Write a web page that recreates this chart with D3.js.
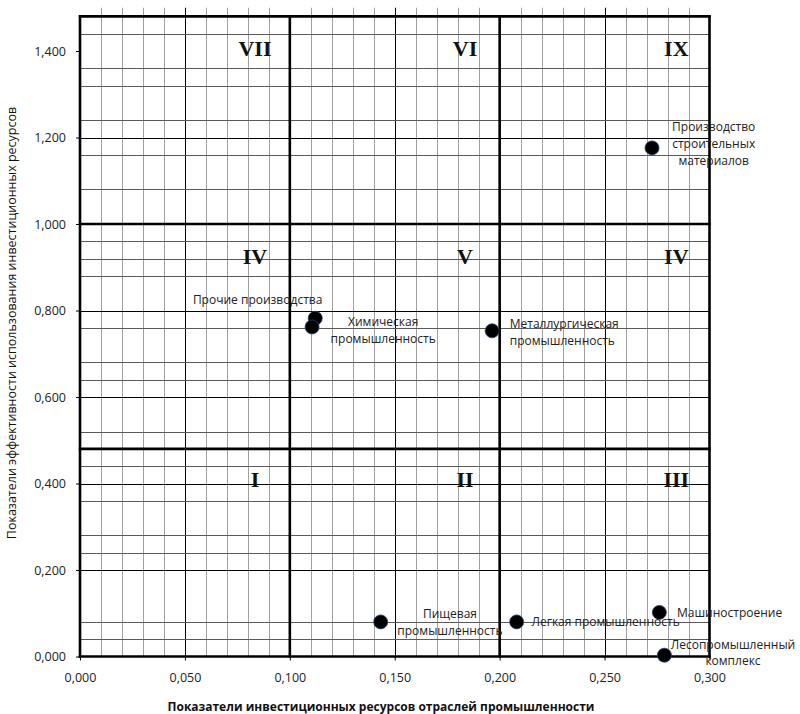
<!DOCTYPE html>
<html><head><meta charset="utf-8">
<script src="https://cdn.jsdelivr.net/npm/d3@7"></script>
<style>body{margin:0;background:#fff}svg{display:block}</style>
</head><body>
<svg id="c" width="800" height="714"></svg>
<script>
// ---- data ----
const pointNames = ["Производство строительных материалов","Прочие производства","Химическая промышленность","Металлургическая промышленность","Пищевая промышленность","Легкая промышленность","Машиностроение","Лесопромышленный комплекс"];
const pointX = [0.2726, 0.1121, 0.1106, 0.1964, 0.1433, 0.2081, 0.2761, 0.2785];
const pointY = [1.176, 0.782, 0.762, 0.753, 0.080, 0.080, 0.102, 0.003];
// label lines, anchor and position (in data units) for each point
const labelLines = [["Производство","строительных","материалов"],["Прочие производства"],["Химическая","промышленность"],["Металлургическая","промышленность"],["Пищевая","промышленность"],["Легкая промышленность"],["Машиностроение"],["Лесопромышленный","комплекс"]];
const labelX = [0.3020, 0.1155, 0.1445, 0.2048, 0.1763, 0.2152, 0.2845, 0.3112];
const labelY = [1.215, 0.814, 0.765, 0.760, 0.090, 0.070, 0.092, 0.017];
const labelLineGap = [17, 17, 17, 17, 17, 17, 17, 16];
const labelAnchor = ["middle","end","middle","start","middle","start","start","middle"];

const xTicks = [0, 0.05, 0.10, 0.15, 0.20, 0.25, 0.30];
const yTicks = [0, 0.2, 0.4, 0.6, 0.8, 1.0, 1.2, 1.4];
const xMinor = d3.range(1, 30).map(i => i / 100).filter(v => Math.round(v * 100) % 5 !== 0);
const xMajorThin = [0.05, 0.15, 0.25];
const yMajorLines = [0.2, 0.4, 0.6, 0.8, 1.2];
const yOverlay = [0.04, 0.08, 0.24, 0.28, 0.36, 0.44, 0.52, 0.64, 0.68, 0.76, 0.88, 0.92, 0.96, 1.08, 1.16, 1.24, 1.32, 1.36, 1.44];
const yThick = [0, 0.48, 1.0, 1.48];
const xThick = [0, 0.1, 0.2, 0.3];
const zoneNames = ["VII","VI","IX","IV","V","IV","I","II","III"];
const zoneX = [0.0834, 0.1835, 0.2842, 0.0834, 0.1835, 0.2842, 0.0834, 0.1835, 0.2842];
const zoneY = [1.388, 1.388, 1.388, 0.907, 0.907, 0.907, 0.392, 0.392, 0.392];

// ---- drawing ----
const svg = d3.select("#c");
const x = d3.scaleLinear().domain([0, 0.3]).range([80, 709.5]);
const y = d3.scaleLinear().domain([0, 1.5]).range([656.5, 7.75]);
const fmt = v => d3.format(".3f")(v).replace(".", ",");

const g = svg.append("g");
// minor vertical gridlines
g.selectAll(".vmin").data(xMinor).join("line")
  .attr("x1", d => Math.round(x(d)) + 0.5).attr("x2", d => Math.round(x(d)) + 0.5)
  .attr("y1", y(1.5)).attr("y2", y(0))
  .attr("stroke", "#a0a0a0").attr("stroke-width", 1);
// major thin vertical
g.selectAll(".vmaj").data(xMajorThin).join("line")
  .attr("x1", d => Math.round(x(d)) + 0.5).attr("x2", d => Math.round(x(d)) + 0.5)
  .attr("y1", y(1.5)).attr("y2", y(0))
  .attr("stroke", "#000").attr("stroke-width", 1);
// overlay horizontal lines
g.selectAll(".hov").data(yOverlay).join("line")
  .attr("x1", x(0)).attr("x2", x(0.3))
  .attr("y1", d => Math.round(y(d)) + 0.5).attr("y2", d => Math.round(y(d)) + 0.5)
  .attr("stroke", "#5a5a5a").attr("stroke-width", 1);
// major horizontal
g.selectAll(".hmaj").data(yMajorLines).join("line")
  .attr("x1", x(0)).attr("x2", x(0.3))
  .attr("y1", d => Math.round(y(d)) + 0.5).attr("y2", d => Math.round(y(d)) + 0.5)
  .attr("stroke", "#000").attr("stroke-width", 1);
// thick dividers
g.selectAll(".hth").data(yThick).join("line")
  .attr("x1", x(0) - 1.2).attr("x2", x(0.3) + 1.2)
  .attr("y1", d => y(d)).attr("y2", d => y(d))
  .attr("stroke", "#000").attr("stroke-width", 2.6);
g.selectAll(".vth").data(xThick).join("line")
  .attr("x1", d => x(d)).attr("x2", d => x(d))
  .attr("y1", y(1.48) - 1.2).attr("y2", y(0) + 1.2)
  .attr("stroke", "#000").attr("stroke-width", 2.6);

// axes
const ax = svg.append("g").attr("transform", `translate(0,${y(0)})`)
  .call(d3.axisBottom(x).tickValues(xTicks).tickFormat(fmt).tickSize(4).tickPadding(13));
ax.select(".domain").remove();
ax.selectAll("text").attr("font-family", "'Open Sans', sans-serif").attr("font-size", 12.5).attr("fill", "#222");
ax.selectAll("line").attr("stroke", "#000");
const ay = svg.append("g").attr("transform", `translate(${x(0)},0)`)
  .call(d3.axisLeft(y).tickValues(yTicks).tickFormat(fmt).tickSize(4).tickPadding(10));
ay.select(".domain").remove();
ay.selectAll("text").attr("font-family", "'Open Sans', sans-serif").attr("font-size", 12.5).attr("fill", "#222");
ay.selectAll("line").attr("stroke", "#000");

// zone numerals
svg.selectAll(".zone").data(zoneNames).join("text")
  .attr("x", (d, i) => x(zoneX[i])).attr("y", (d, i) => y(zoneY[i]))
  .attr("text-anchor", "middle")
  .attr("font-family", "'Liberation Serif', 'Times New Roman', serif")
  .attr("font-weight", "bold").attr("font-size", 22).attr("fill", "#111")
  .text(d => d);

// points
svg.selectAll(".pt").data(pointNames).join("circle")
  .attr("cx", (d, i) => x(pointX[i])).attr("cy", (d, i) => y(pointY[i]))
  .attr("r", 7).attr("fill", "#000").attr("stroke", "#1f3f73").attr("stroke-width", 0.8);

// point labels
pointNames.forEach((n, i) => {
  const t = svg.append("text")
    .attr("x", x(labelX[i])).attr("y", y(labelY[i]))
    .attr("text-anchor", labelAnchor[i])
    .attr("font-family", "'Open Sans', sans-serif").attr("font-size", 12).attr("fill", "#222");
  labelLines[i].forEach((line, j) => {
    t.append("tspan").attr("x", x(labelX[i])).attr("dy", j === 0 ? 0 : labelLineGap[i]).text(line);
  });
});

// axis titles
svg.append("text").attr("x", 381).attr("y", 711).attr("text-anchor", "middle")
  .attr("font-family", "'Open Sans', sans-serif").attr("font-weight", "bold").attr("font-size", 12).attr("fill", "#111")
  .text("Показатели инвестиционных ресурсов отраслей промышленности");
svg.append("text").attr("transform", "translate(16,323) rotate(-90)").attr("text-anchor", "middle")
  .attr("font-family", "'Open Sans', sans-serif").attr("font-size", 12.5).attr("fill", "#111")
  .text("Показатели эффективности использования инвестиционных ресурсов");
</script>
</body></html>
